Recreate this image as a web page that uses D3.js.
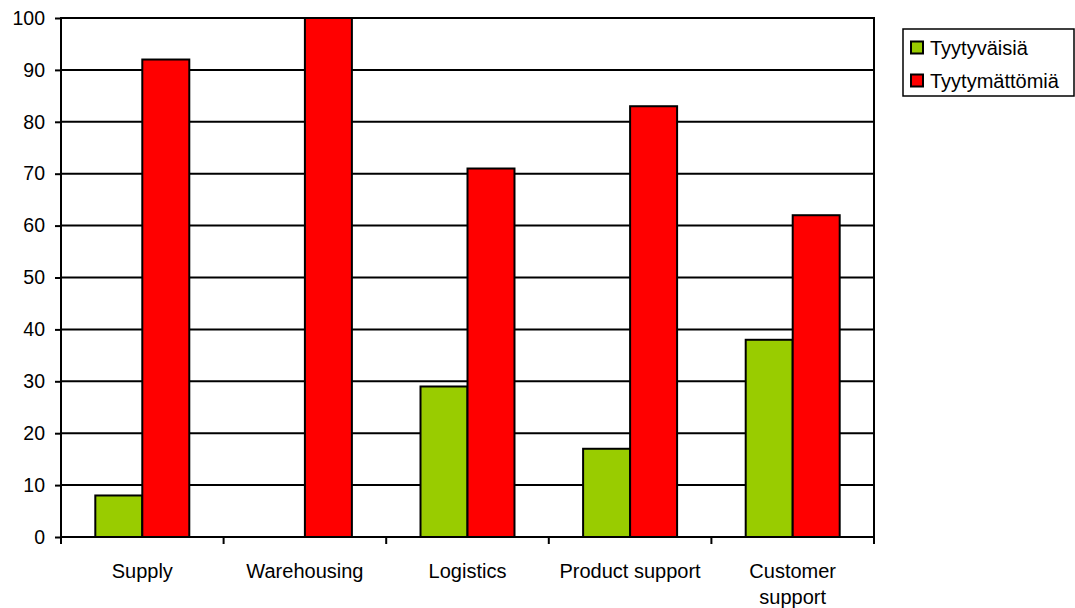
<!DOCTYPE html>
<html>
<head>
<meta charset="utf-8">
<script src="https://cdn.jsdelivr.net/npm/d3@7"></script>
<style>
  body { margin: 0; background: #fff; }
  text { font-family: "Liberation Sans", Arial, sans-serif; fill: #000; }
</style>
</head>
<body>
<svg id="chart" width="1075" height="608"></svg>
<script>
const categories = ["Supply", "Warehousing", "Logistics", "Product support", "Customer support"];
const seriesNames = ["Tyytyväisiä", "Tyytymättömiä"];
const satisfied = [8, 0, 29, 17, 38];
const dissatisfied = [92, 100, 71, 83, 62];
const yTicks = [0, 10, 20, 30, 40, 50, 60, 70, 80, 90, 100];
const colors = ["#99CC00", "#FF0000"];

const svg = d3.select("#chart");
const plotL = 61, plotR = 874, plotT = 18, plotB = 537;
const fontSize = "19.5px";
const labelSize = "20px";

const x = d3.scaleBand().domain(categories).range([plotL, plotR]).paddingInner(0).paddingOuter(0);
const inner = d3.scaleBand().domain(seriesNames).range([0, x.bandwidth()]).paddingInner(0).paddingOuter(0.73);
const y = d3.scaleLinear().domain([0, 100]).range([plotB, plotT]);

// horizontal gridlines
svg.append("g").selectAll("line").data(yTicks.filter(d => d > 0)).join("line")
  .attr("x1", plotL).attr("x2", plotR)
  .attr("y1", d => y(d)).attr("y2", d => y(d))
  .attr("stroke", "#000").attr("stroke-width", 2);

// right border of plot area
svg.append("line").attr("x1", plotR).attr("x2", plotR).attr("y1", plotT - 1).attr("y2", plotB)
  .attr("stroke", "#000").attr("stroke-width", 2);

// bars
const rows = categories.map((c, i) => ({ c, vals: [satisfied[i], dissatisfied[i]] }));
const groups = svg.append("g").selectAll("g").data(rows).join("g")
  .attr("transform", d => `translate(${x(d.c)},0)`);
groups.selectAll("rect").data(d => d.vals.map((v, k) => ({ v, k })).filter(e => e.v > 0)).join("rect")
  .attr("x", e => inner(seriesNames[e.k]))
  .attr("width", inner.bandwidth())
  .attr("y", e => y(e.v))
  .attr("height", e => y(0) - y(e.v))
  .attr("fill", e => colors[e.k])
  .attr("stroke", "#000").attr("stroke-width", 2);

// y axis
const yAxis = svg.append("g").attr("transform", `translate(${plotL},0)`)
  .call(d3.axisLeft(y).tickValues(yTicks).tickSize(6).tickPadding(10));
yAxis.select(".domain").attr("stroke-width", 2).attr("d", `M0,${plotT - 1}V${plotB + 7}`);
yAxis.selectAll(".tick line").attr("stroke-width", 2);
yAxis.selectAll("text").style("font-size", fontSize).attr("font-family", "Liberation Sans, Arial, sans-serif");

// x axis with ticks on category boundaries
const xAxisG = svg.append("g");
xAxisG.append("line").attr("x1", plotL - 1).attr("x2", plotR + 1).attr("y1", plotB).attr("y2", plotB)
  .attr("stroke", "#000").attr("stroke-width", 2);
const bounds = categories.map(c => x(c)).concat([plotR]);
xAxisG.selectAll("line.tk").data(bounds).join("line").attr("class", "tk")
  .attr("x1", d => d).attr("x2", d => d).attr("y1", plotB).attr("y2", plotB + 7)
  .attr("stroke", "#000").attr("stroke-width", 2);

const labelLines = { "Customer support": ["Customer", "support"] };
xAxisG.selectAll("text.cat").data(categories).join("text").attr("class", "cat")
  .attr("x", d => x(d) + x.bandwidth() / 2)
  .attr("y", 578)
  .attr("text-anchor", "middle")
  .style("font-size", labelSize)
  .each(function(d) {
    const lines = labelLines[d] || [d];
    d3.select(this).selectAll("tspan").data(lines).join("tspan")
      .attr("x", x(d) + x.bandwidth() / 2)
      .attr("dy", (l, i) => i === 0 ? 0 : 26)
      .text(l => l);
  });

// legend
const lg = svg.append("g");
lg.append("rect").attr("x", 903).attr("y", 29).attr("width", 171).attr("height", 67)
  .attr("fill", "#fff").attr("stroke", "#000").attr("stroke-width", 1.5);
seriesNames.forEach((n, i) => {
  const cy = 47.5 + i * 33;
  lg.append("rect").attr("x", 911).attr("y", cy - 6).attr("width", 12).attr("height", 12)
    .attr("fill", colors[i]).attr("stroke", "#000").attr("stroke-width", 2);
  lg.append("text").attr("x", 930).attr("y", cy + 7).style("font-size", labelSize).text(n);
});
</script>
</body>
</html>
